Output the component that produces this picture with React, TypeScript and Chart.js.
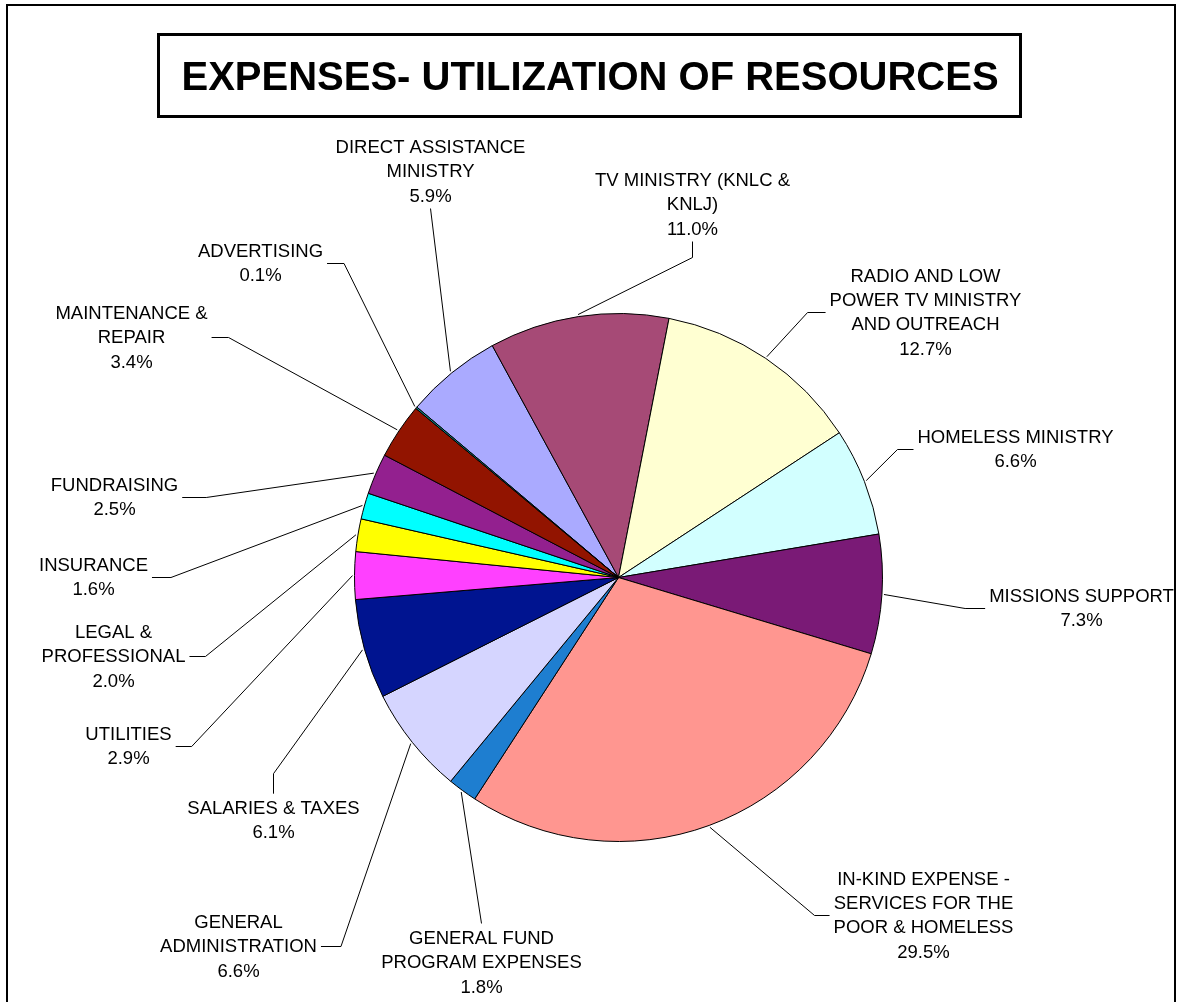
import React, { useEffect, useRef } from 'react';
import { Chart, registerables } from 'chart.js';

Chart.register(...registerables);

// ---- data ----
const categories: string[] = [
  'DIRECT ASSISTANCE\nMINISTRY',
  'TV MINISTRY (KNLC &\nKNLJ)',
  'RADIO AND LOW\nPOWER TV MINISTRY\nAND OUTREACH',
  'HOMELESS MINISTRY',
  'MISSIONS SUPPORT',
  'IN-KIND EXPENSE -\nSERVICES FOR THE\nPOOR & HOMELESS',
  'GENERAL FUND\nPROGRAM EXPENSES',
  'GENERAL\nADMINISTRATION',
  'SALARIES & TAXES',
  'UTILITIES',
  'LEGAL &\nPROFESSIONAL',
  'INSURANCE',
  'FUNDRAISING',
  'MAINTENANCE &\nREPAIR',
  'ADVERTISING',
];

const values: number[] = [5.9, 11.0, 12.7, 6.6, 7.3, 29.5, 1.8, 6.6, 6.1, 2.9, 2.0, 1.6, 2.5, 3.4, 0.1];

const titleText = 'EXPENSES- UTILIZATION OF RESOURCES';

// ---- styles / layout ----
const sliceColors: string[] = [
  '#AAAAFF', '#A64A76', '#FFFFD2', '#D2FFFF', '#7A1A76', '#FF9690', '#1E7ED0', '#D5D5FF',
  '#001490', '#FF40FF', '#FFFF00', '#00FFFF', '#93208F', '#921400', '#109292',
];

// label block centre, relative to the pie centre (px)
const labelOffsets: [number, number][] = [
  [-188, -407], [74, -374], [307, -266], [397, -129], [463, 30], [305, 337], [-137, 384],
  [-380, 368], [-345, 242], [-490, 168], [-505, 78], [-525, -1], [-504, -81], [-487, -241], [-358, -315],
];
const labelSides: string[] = [
  'bottom', 'bottom', 'left', 'left', 'left', 'left', 'top', 'right', 'top', 'right', 'right', 'right', 'right', 'right', 'right',
];
const leaderStubs: number[] = [0, 16, 18, 16, 20, 15, 0, 20, 20, 16, 16, 19, 24, 17, 17];

const FONT_FAMILY = '"Liberation Sans", Arial, sans-serif';
const LABEL_SIZE = 18.5;
const LINE_H = 24.4;
const CAP_H = LABEL_SIZE * 0.716;

const total = values.reduce((a, b) => a + b, 0);

const decorPlugin = {
  id: 'decor',
  beforeDraw(chart: any) {
    const ctx = chart.ctx;
    ctx.save();
    ctx.fillStyle = '#ffffff';
    ctx.fillRect(0, 0, chart.width, chart.height);
    ctx.restore();
  },
  afterDatasetsDraw(chart: any) {
    const ctx: CanvasRenderingContext2D = chart.ctx;
    const meta = chart.getDatasetMeta(0);
    ctx.save();
    ctx.font = `${LABEL_SIZE}px ${FONT_FAMILY}`;
    ctx.textAlign = 'center';
    ctx.textBaseline = 'alphabetic';
    ctx.fillStyle = '#000';
    ctx.strokeStyle = '#000';
    ctx.lineWidth = 1;
    meta.data.forEach((arc: any, i: number) => {
      const { x, y, startAngle, endAngle, outerRadius } = arc.getProps(
        ['x', 'y', 'startAngle', 'endAngle', 'outerRadius'], true);
      const mid = (startAngle + endAngle) / 2;
      const rimX = x + Math.cos(mid) * (outerRadius + 2);
      const rimY = y + Math.sin(mid) * (outerRadius + 2);
      const pct = ((values[i] / total) * 100).toFixed(1) + '%';
      const lines = [...categories[i].split('\n'), pct];
      const maxW = Math.max(...lines.map((l) => ctx.measureText(l).width));
      const blockH = (lines.length - 1) * LINE_H + CAP_H;
      const cx = x + labelOffsets[i][0];
      const cy = y + labelOffsets[i][1];
      const top = cy - blockH / 2;
      const stub = leaderStubs[i];
      let ax = cx, ay = cy, ex = cx, ey = cy;
      switch (labelSides[i]) {
        case 'left':
          ax = cx - maxW / 2 - 4; ay = cy + 1; ex = ax - stub; ey = ay; break;
        case 'right':
          ax = cx + maxW / 2 + 4; ay = cy + 1; ex = ax + stub; ey = ay; break;
        case 'top':
          ax = cx; ay = top - 7; ex = ax; ey = ay - stub; break;
        default:
          ax = cx; ay = top + blockH + 7; ex = ax; ey = ay + stub; break;
      }
      ctx.beginPath();
      ctx.moveTo(rimX, rimY);
      ctx.lineTo(ex, ey);
      ctx.lineTo(ax, ay);
      ctx.stroke();
      lines.forEach((l, k) => ctx.fillText(l, cx, top + CAP_H + k * LINE_H));
    });
    ctx.restore();

    // title box
    ctx.save();
    ctx.strokeStyle = '#000';
    ctx.lineWidth = 3;
    ctx.strokeRect(158.5, 34.5, 862, 82);
    ctx.font = `bold 40px ${FONT_FAMILY}`;
    ctx.textAlign = 'center';
    ctx.textBaseline = 'alphabetic';
    ctx.fillStyle = '#000';
    ctx.fillText(titleText, 590, 90);
    // chart area border
    ctx.lineWidth = 2;
    ctx.strokeRect(7, 5, 1168, 1100);
    ctx.restore();
  },
};

export default function App() {
  const canvasRef = useRef<HTMLCanvasElement | null>(null);
  useEffect(() => {
    if (!canvasRef.current) return;
    const chart = new Chart(canvasRef.current, {
      type: 'pie',
      data: {
        labels: categories.map((c) => c.replace(/\n/g, ' ')),
        datasets: [
          {
            data: values,
            backgroundColor: sliceColors,
            borderColor: '#000000',
            borderWidth: 1,
          },
        ],
      },
      options: {
        responsive: false,
        animation: false,
        devicePixelRatio: 1,
        rotation: -49.8,
        layout: { padding: { left: 354, right: 299, top: 313, bottom: 160 } },
        plugins: {
          legend: { display: false },
          tooltip: { enabled: false },
          title: { display: false },
        },
      },
      plugins: [decorPlugin],
    });
    return () => chart.destroy();
  }, []);
  return (
    <div style={{ position: 'absolute', left: 0, top: 0, width: 1182, height: 1002 }}>
      <canvas ref={canvasRef} width={1182} height={1002} style={{ display: 'block' }} />
    </div>
  );
}
